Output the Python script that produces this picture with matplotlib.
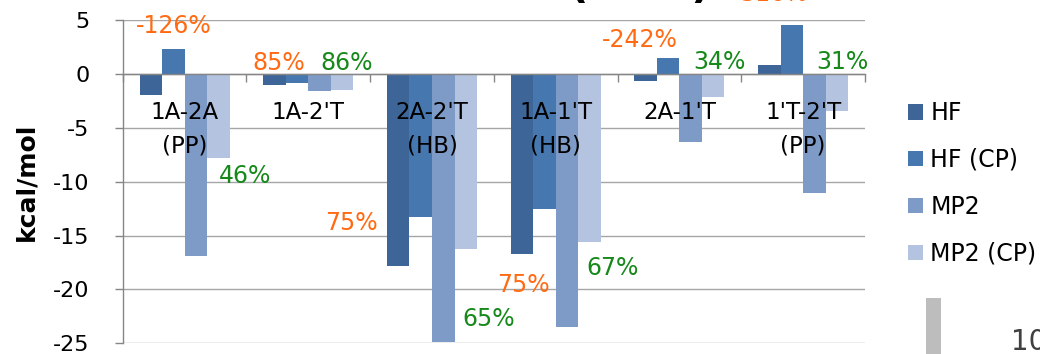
import numpy as np
import matplotlib.pyplot as plt
from matplotlib.patches import Rectangle

plt.rcParams['font.family'] = ['DejaVu Sans']

pairs = ["1A-2A\n(PP)", "1A-2'T", "2A-2'T\n(HB)", "1A-1'T\n(HB)", "2A-1'T", "1'T-2'T\n(PP)"]
series = ["HF", "HF (CP)", "MP2", "MP2 (CP)"]
hf = [-1.9, -0.98, -17.8, -16.7, -0.68, 0.87]
hf_cp = [2.3, -0.83, -13.3, -12.5, 1.5, 4.6]
mp2 = [-16.85, -1.6, -24.9, -23.5, -6.3, -11.0]
mp2_cp = [-7.8, -1.45, -16.2, -15.6, -2.1, -3.4]

# CP / no-CP ratios
hf_ratio = ["-126%", "85%", "75%", "75%", "-242%", "516%"]
mp2_ratio = ["46%", "86%", "65%", "67%", "34%", "31%"]

colors = ["#3D6597", "#4677AF", "#7E9BC7", "#B4C3DF"]
orange = "#FF6A13"
green = "#16891A"
grid_c = "#A6A6A6"
axis_c = "#868686"

# where the ratio labels sit (x in category units, y in kcal/mol, baseline)
hf_pos = [(-0.09, 3.86), (0.76, 0.41), (1.35, -14.47), (2.74, -20.28), (3.68, 2.5), (4.76, 6.75)]
mp2_pos = [(0.49, -10.1), (1.31, 0.41), (2.46, -23.36), (3.46, -18.64), (4.32, 0.5), (5.32, 0.5)]

fig = plt.figure(figsize=(10.4, 3.54), dpi=100)
ax = fig.add_axes([0.118, 0.0302, 0.7137, 0.9124])

x = np.arange(len(pairs))
w = 0.182
handles = []
for i, vals in enumerate([hf, hf_cp, mp2, mp2_cp]):
    b = ax.bar(x + (i - 1.5) * w, vals, w, color=colors[i], label=series[i], zorder=1)
    handles.append(b)

ax.set_xlim(-0.5, len(pairs) - 0.5)
ax.set_ylim(-25, 5)
yt = np.arange(-25, 6, 5)
ax.set_yticks(yt)
ax.set_yticklabels([str(v) for v in yt])
for v in yt:
    ax.axhline(v, color=grid_c, lw=1.0, zorder=0.5)

ax.set_xticks(np.arange(-0.5, len(pairs)), labels=[])
ax.set_xticks(x, labels=pairs, minor=True)
ax.tick_params(axis='x', which='major', length=5.8, width=1.0, color=axis_c, direction='out')
ax.tick_params(axis='x', which='minor', length=0, pad=19, labelsize=16.5)
ax.tick_params(axis='y', length=5.8, width=1.0, color=axis_c, pad=18, labelsize=16)

for s in ['top', 'right']:
    ax.spines[s].set_visible(False)
ax.spines['bottom'].set_position(('data', 0))
ax.spines['bottom'].set_color(axis_c)
ax.spines['left'].set_color(axis_c)
ax.spines['bottom'].set_linewidth(1.0)
ax.spines['left'].set_linewidth(1.0)

ax.set_ylabel('kcal/mol', fontsize=18, fontweight='bold')
ax.yaxis.set_label_coords(-0.114, 0.5)

for lab, (px, py) in zip(hf_ratio, hf_pos):
    ax.text(px, py, lab, color=orange, fontsize=17, ha='center', va='baseline', clip_on=False)
for lab, (px, py) in zip(mp2_ratio, mp2_pos):
    ax.text(px, py, lab, color=green, fontsize=17, ha='center', va='baseline', clip_on=False)

ax.legend(handles=handles, loc='upper left', bbox_to_anchor=(908 / 1040, 1 - 101 / 354),
          bbox_transform=fig.transFigure, frameon=False, fontsize=17,
          handlelength=0.65, handleheight=0.65, handletextpad=0.3,
          labelspacing=0.97, borderpad=0, borderaxespad=0)

# title sits mostly above the visible area
fig.text(711 / 1040, 1 + 2 / 354, 'BSSE (MP2)', fontsize=30.5, fontweight='bold',
         ha='right', va='baseline')

# slide decoration and page number
fig.add_artist(Rectangle((925.7 / 1040, 0), 15.3 / 1040, 56 / 354,
                         transform=fig.transFigure, color='#BDBDBD', lw=0))
fig.text(1011 / 1040, 1 - 349.5 / 354, '10', fontsize=20, color='#404040', va='baseline')

# two-line category names need wider spacing than the default
fig.canvas.draw()
for t in ax.xaxis.get_minorticklabels():
    t.set_linespacing(1.6)

fig.savefig('out.png', dpi=100)
